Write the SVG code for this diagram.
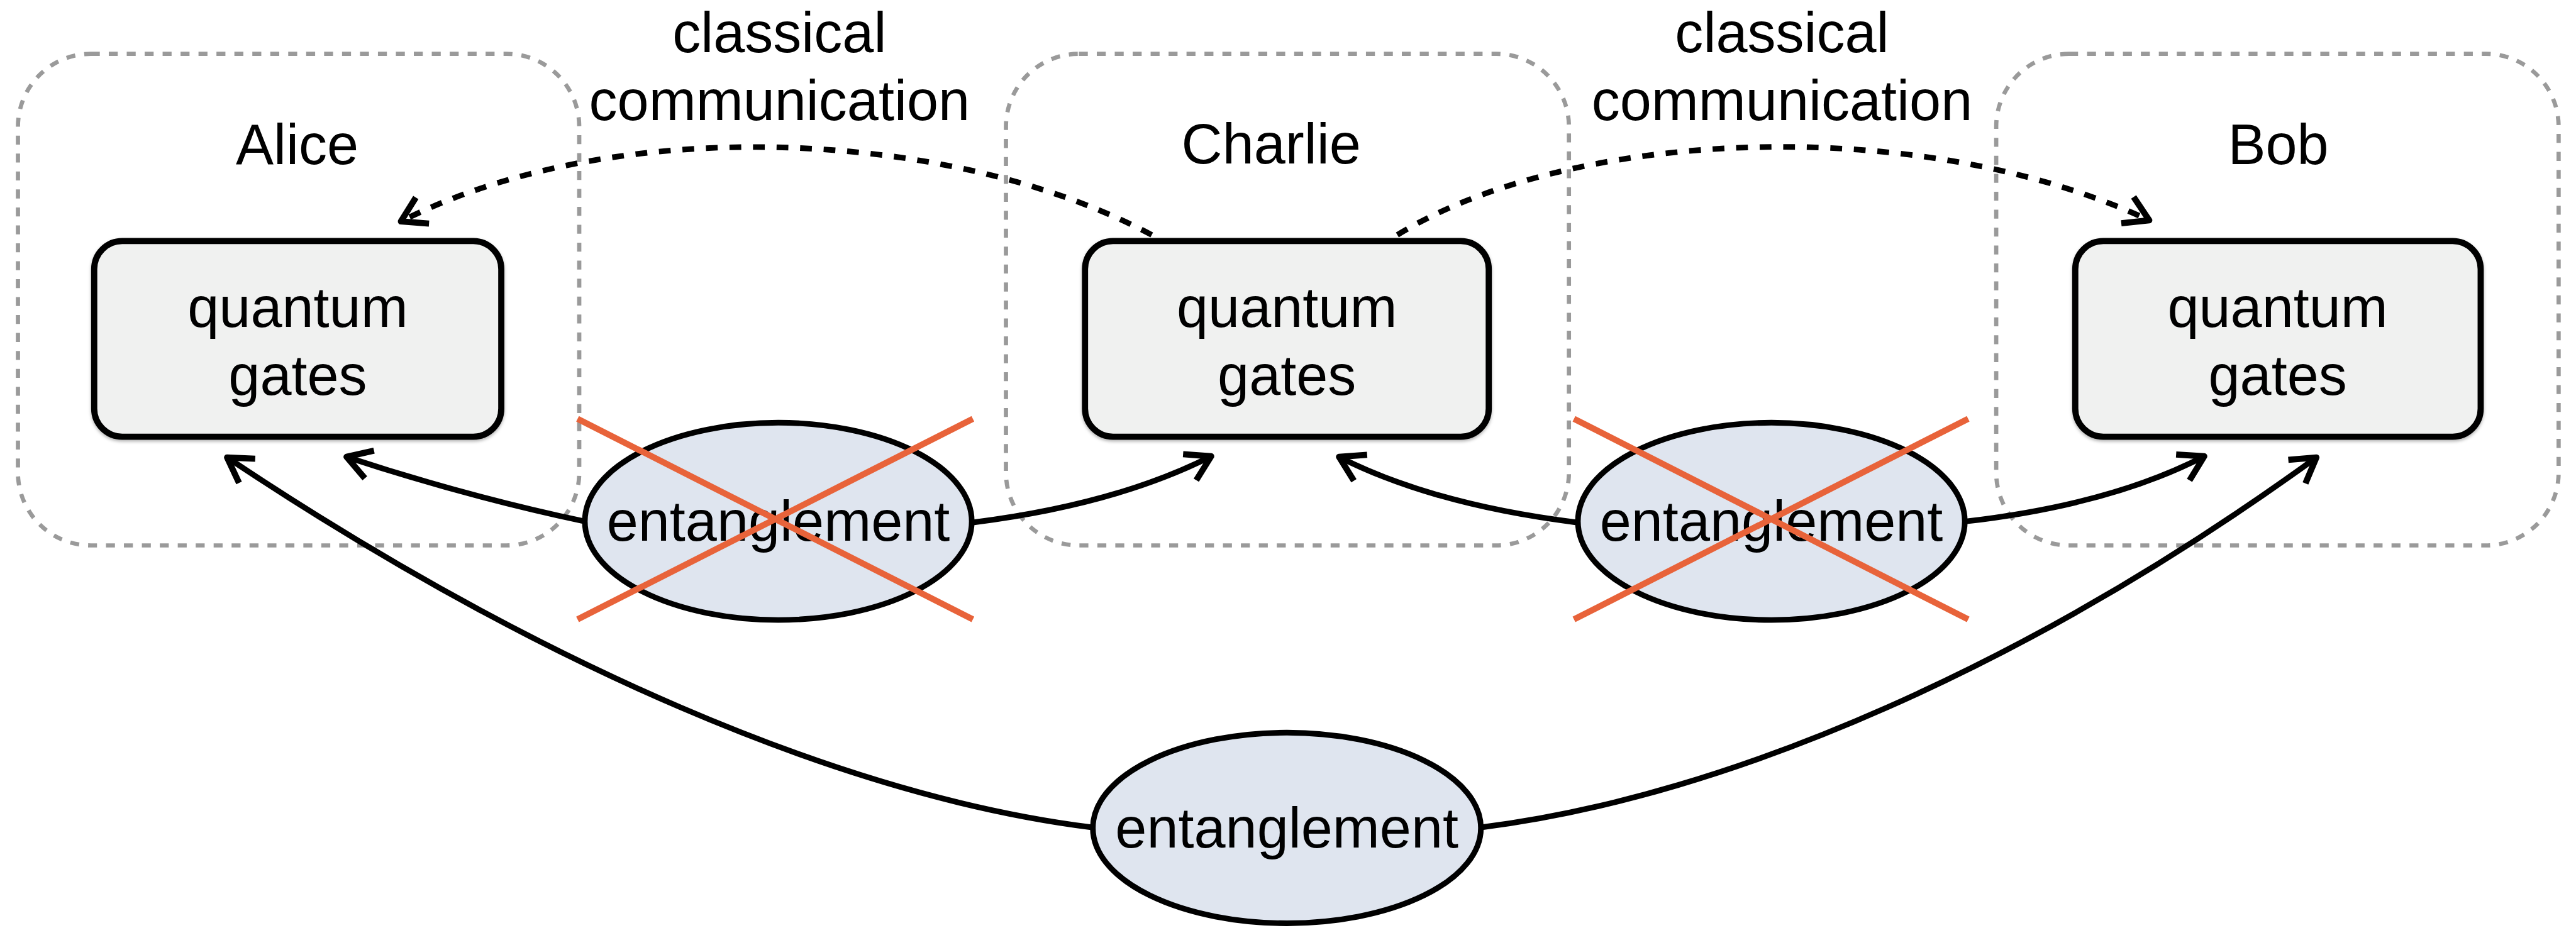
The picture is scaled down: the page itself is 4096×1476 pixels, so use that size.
<svg xmlns="http://www.w3.org/2000/svg" width="4096" height="1476" viewBox="0 0 4096 1476">
  <style>
    .party { fill: none; stroke: #9a9a9a; stroke-width: 7.5; stroke-dasharray: 16 16; }
    .gates { fill: #f0f1f0; stroke: #000; stroke-width: 11; filter: url(#soft); }
    .ent { fill: #dfe5ef; stroke: #000; stroke-width: 10; }
    .lbl { font-family: "Liberation Sans", Arial, Helvetica, sans-serif; font-size: 101px; fill: #000; text-anchor: middle; }
    .cross { stroke: #e8633a; stroke-width: 11; fill: none; }
    .quantum { fill: none; stroke: #000; stroke-width: 10; marker-end: url(#head); }
    .classical { fill: none; stroke: #000; stroke-width: 10; stroke-dasharray: 21 21; marker-end: url(#head); }
  </style>
  <defs>
    <filter id="soft" x="-5%" y="-5%" width="110%" height="115%">
      <feDropShadow dx="0" dy="3" stdDeviation="3" flood-color="#000" flood-opacity="0.3"/>
    </filter>
    <marker id="head" markerUnits="userSpaceOnUse" viewBox="-60 -40 80 80" refX="0" refY="0" markerWidth="80" markerHeight="80" orient="auto" overflow="visible">
      <path d="M -43 -26 L 0 0 L -43 26" fill="none" stroke="#000" stroke-width="11" stroke-dasharray="none" stroke-linejoin="round"/>
    </marker>
  </defs>
  <rect width="4096" height="1476" fill="#fff"/>

  <g transform="scale(0.8916)">
    <!-- party regions -->
    <g id="alice">
      <rect class="party" x="32" y="96" width="1001" height="877" rx="130" ry="130"/>
      <text class="lbl" x="530" y="293">Alice</text>
    </g>
    <g id="charlie">
      <rect class="party" x="1794" y="96" width="1004" height="877" rx="130" ry="130"/>
      <text class="lbl" x="2267" y="292">Charlie</text>
    </g>
    <g id="bob">
      <rect class="party" x="3560" y="96" width="1003" height="877" rx="130" ry="130"/>
      <text class="lbl" x="4063" y="293">Bob</text>
    </g>

    <!-- connectors -->
    <g id="connectors">
      <path class="classical" d="M 2054 419 C 1700 230, 1100 200, 715 395"/>
      <path class="classical" d="M 2492 419 C 2800 230, 3420 200, 3833 393"/>
      <path class="quantum" d="M 1042 930 Q 830 885 618 815"/>
      <path class="quantum" d="M 1735 932 Q 1990 900 2160 814"/>
      <path class="quantum" d="M 2812 932 Q 2555 900 2388 815"/>
      <path class="quantum" d="M 3507 930 Q 3765 900 3931 814"/>
      <path class="quantum" d="M 1948 1476 C 1500 1420, 950 1180, 405 816"/>
      <path class="quantum" d="M 2641 1476 C 3090 1420, 3630 1180, 4131 816"/>
    </g>

    <!-- local operations -->
    <g id="alice-gates">
      <rect class="gates" x="168" y="430" width="726" height="349" rx="50" ry="50"/>
      <text class="lbl" x="531" y="583">quantum</text>
      <text class="lbl" x="531" y="704">gates</text>
    </g>
    <g id="charlie-gates">
      <rect class="gates" x="1935" y="430" width="720" height="349" rx="50" ry="50"/>
      <text class="lbl" x="2295" y="583">quantum</text>
      <text class="lbl" x="2295" y="704">gates</text>
    </g>
    <g id="bob-gates">
      <rect class="gates" x="3701" y="430" width="723" height="349" rx="50" ry="50"/>
      <text class="lbl" x="4062" y="583">quantum</text>
      <text class="lbl" x="4062" y="704">gates</text>
    </g>

    <!-- classical channel labels -->
    <g id="classical-left">
      <text class="lbl" x="1390" y="93">classical</text>
      <text class="lbl" x="1390" y="214">communication</text>
    </g>
    <g id="classical-right">
      <text class="lbl" x="3178" y="93">classical</text>
      <text class="lbl" x="3178" y="214">communication</text>
    </g>

    <!-- entanglement sources -->
    <g id="entanglement-ac">
      <ellipse class="ent" cx="1388" cy="930" rx="345" ry="176"/>
      <text class="lbl" x="1388" y="964">entanglement</text>
      <path class="cross" d="M 1030 747 L 1735 1105 M 1735 747 L 1030 1105"/>
    </g>
    <g id="entanglement-cb">
      <ellipse class="ent" cx="3159" cy="930" rx="345" ry="176"/>
      <text class="lbl" x="3159" y="964">entanglement</text>
      <path class="cross" d="M 2807 747 L 3510 1105 M 3510 747 L 2807 1105"/>
    </g>
    <g id="entanglement-ab">
      <ellipse class="ent" cx="2295" cy="1477" rx="346" ry="170"/>
      <text class="lbl" x="2295" y="1512">entanglement</text>
    </g>
  </g>
</svg>
